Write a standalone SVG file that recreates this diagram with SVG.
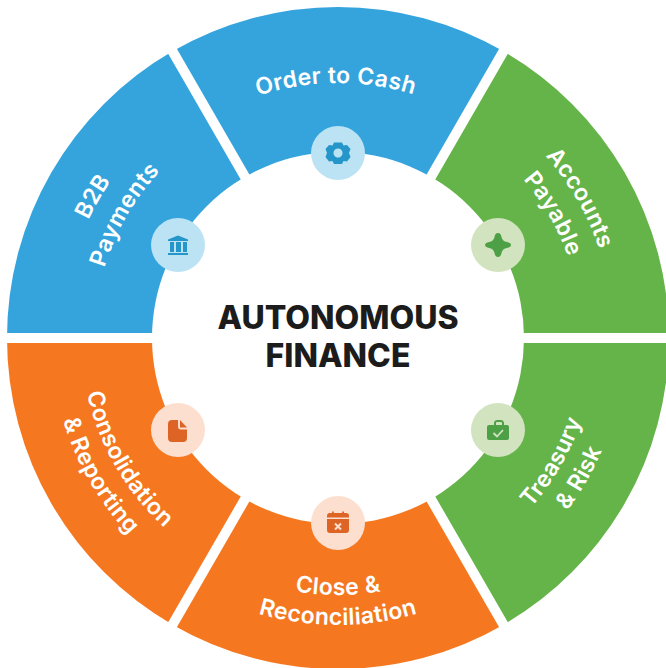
<svg xmlns="http://www.w3.org/2000/svg" width="666" height="668" viewBox="0 0 666 668">
<style>
.lbl{font-family:"Inter","Noto Sans",sans-serif;font-weight:600;font-size:23px;letter-spacing:.35px;fill:#fff;text-anchor:middle}
.ttl{font-family:"Inter","Liberation Sans",sans-serif;font-weight:800;font-size:32px;fill:#1c1c1c;text-anchor:middle}
.b{fill:#35a4dd}.g{fill:#65b449}.o{fill:#f57821}
.bl{fill:#bbe3f4}.gl{fill:#d2e3bf}.ol{fill:#fddfcf}
.bi{fill:#2596c9}.gi{fill:#4ea047}.oi{fill:#dd6425}
</style>
<defs>
<path id="t255" d="M83 338A255 255 0 0 1 593 338"/>
<path id="t244" d="M94 338A244 244 0 0 1 582 338"/>
<path id="t276" d="M62 338A276 276 0 0 1 614 338"/>
<path id="u257" d="M81 338A257 257 0 0 0 595 338"/>
<path id="u287" d="M51 338A287 287 0 0 0 625 338"/>
</defs>
<rect width="666" height="668" fill="#fff"/>
<g id="ring-sectors">
<path class="b" d="M338 338 L7 338 A331 331 0 0 1 172.500 51.300 Z"/>
<path class="b" d="M338 338 L172.500 51.300 A331 331 0 0 1 503.500 51.300 Z"/>
<path class="g" d="M338 338 L503.500 51.300 A331 331 0 0 1 669 338 Z"/>
<path class="g" d="M338 338 L669 338 A331 331 0 0 1 503.500 624.700 Z"/>
<path class="o" d="M338 338 L503.500 624.700 A331 331 0 0 1 172.500 624.700 Z"/>
<path class="o" d="M338 338 L172.500 624.700 A331 331 0 0 1 7 338 Z"/>
</g>
<g id="connectors" stroke="#fff" stroke-width="10" fill="none">
<path d="M0 338H676"/>
<path d="M164 36.600L512 639.400"/>
<path d="M512 36.600L164 639.400"/>
</g>
<circle id="hub" cx="338" cy="338" r="186" fill="#fff"/>
<g id="center-title">
<text class="ttl" x="338" y="329">AUTONOMOUS</text>
<text class="ttl" x="338" y="367">FINANCE</text>
</g>
<g id="order-to-cash">
<text class="lbl" transform="rotate(-0.5 338 338)"><textPath href="#t255" startOffset="50%">Order to Cash</textPath></text>
<circle class="bl" cx="338" cy="153" r="27"/>
<path class="bi" fill-rule="evenodd" d="M334 142.500h8l1.500 3 3.500-.5 3.500 4-1.500 4 1.500 4-3.500 4.500-3.500-.5-1.500 3h-8l-1.500-3-3.500.5-3.500-4.500 1.500-4-1.500-4 3.500-4 3.500.5ZM338 148.500a4.500 4.500 0 1 0 .01 0Z"/>
</g>
<g id="b2b-payments">
<g transform="rotate(-60 338 338)">
<text class="lbl"><textPath href="#t276" startOffset="50%">B2B</textPath></text>
<text class="lbl"><textPath href="#t244" startOffset="50%">Payments</textPath></text>
</g>
<circle class="bl" cx="178" cy="245" r="27"/>
<path class="bi" d="M168 239.500l10-4 10 4v1.500h-20ZM170 242h4v10h-4ZM176 242h5v10h-5ZM183 242h4v10h-4ZM168 253h20v2h-20Z"/>
</g>
<g id="accounts-payable">
<g transform="rotate(60 338 338)">
<text class="lbl"><textPath href="#t276" startOffset="50%">Accounts</textPath></text>
<text class="lbl"><textPath href="#t244" startOffset="50%">Payable</textPath></text>
</g>
<circle class="gl" cx="498" cy="245" r="27"/>
<path class="gi" d="M498 233c2 0 3 1.500 3.500 4 .7 3 2.500 4.500 5.500 5 2 .4 4 1.500 4 3s-2 2.600-4 3c-3 .5-4.800 2-5.500 5-.5 2.500-1.500 4-3.500 4s-3-1.500-3.500-4c-.7-3-2.500-4.500-5.500-5-2-.4-4-1.500-4-3s2-2.600 4-3c3-.5 4.800-2 5.500-5 .5-2.500 1.500-4 3.500-4Z"/>
</g>
<g id="treasury-risk">
<g transform="rotate(-60 338 338)">
<text class="lbl"><textPath href="#u257" startOffset="50%">Treasury</textPath></text>
<text class="lbl"><textPath href="#u287" startOffset="50%">&amp; Risk</textPath></text>
</g>
<circle class="gl" cx="498" cy="430" r="27"/>
<path class="gi" fill-rule="evenodd" d="M494 425v-2.500a3 3 0 0 1 3-2.500h4a3 3 0 0 1 3 2.500v2.500h3a2 2 0 0 1 2 2v11a2 2 0 0 1-2 2h-18a2 2 0 0 1-2-2v-11a2 2 0 0 1 2-2ZM496 425h6v-2a1 1 0 0 0-1-1h-4a1 1 0 0 0-1 1Z"/>
<path d="M493.500 433l3.500 3.500 6-6.500" fill="none" stroke="#d2e3bf" stroke-width="1.800"/>
</g>
<g id="close-reconciliation">
<text class="lbl"><textPath href="#u257" startOffset="50%">Close &amp;</textPath></text>
<text class="lbl"><textPath href="#u287" startOffset="50%">Reconciliation</textPath></text>
<circle class="ol" cx="338" cy="523" r="27"/>
<path class="oi" d="M330 513h2v-1.500h1.800v1.500h8.400v-1.500h1.800v1.500h2a3 3 0 0 1 3 3v1.500h-22v-1.500a3 3 0 0 1 3-3ZM327 519h22v11a3 3 0 0 1-3 3h-16a3 3 0 0 1-3-3Z"/>
<path d="M335 523.500l6 6M341 523.500l-6 6" stroke="#fddfcf" stroke-width="2"/>
</g>
<g id="consolidation-reporting">
<g transform="rotate(60 338 338)">
<text class="lbl"><textPath href="#u257" startOffset="50%">Consolidation</textPath></text>
<text class="lbl"><textPath href="#u287" startOffset="50%">&amp; Reporting</textPath></text>
</g>
<circle class="ol" cx="178" cy="430" r="27"/>
<path class="oi" d="M172 420h6v6.500a3 3 0 0 0 3 3h6v8.500a4 4 0 0 1-4 4h-11a4 4 0 0 1-4-4v-14a4 4 0 0 1 4-4Z"/>
<path class="oi" d="M180 420l7 7.500h-7Z"/>
</g>
</svg>
